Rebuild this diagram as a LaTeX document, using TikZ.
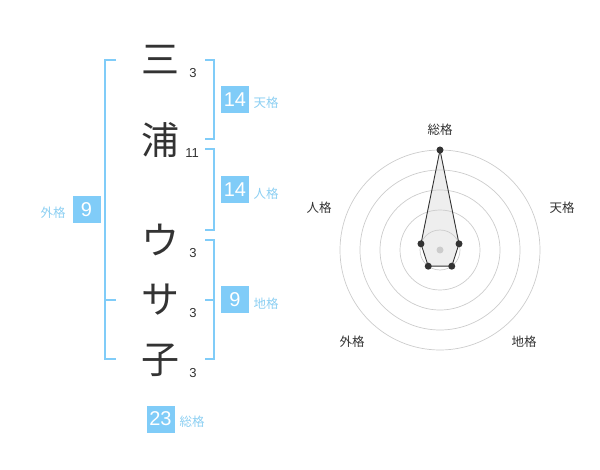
\documentclass[tikz,border=0pt]{standalone}
\usepackage{fontspec}
\setmainfont{Liberation Sans}
\newfontfamily\cjk{Noto Sans CJK JP}
\definecolor{brk}{HTML}{80CCF8}
\definecolor{lbl}{HTML}{8CCFF2}
\definecolor{ink}{HTML}{333333}
\definecolor{ring}{HTML}{CCCCCC}
\definecolor{area}{HTML}{EEEEEE}
\begin{document}
\begin{tikzpicture}[x=1pt,y=-1pt,
  bigchar/.style={font=\cjk\fontsize{38}{38}\selectfont, text=ink, inner sep=0pt},
  strokes/.style={font=\fontsize{13}{13}\selectfont, text=ink, inner sep=0pt},
  valbox/.style={fill=brk, text=white, minimum width=28pt, minimum height=27pt, inner sep=0pt, font=\fontsize{20}{20}\selectfont},
  kaku/.style={font=\cjk\fontsize{12.5}{12.5}\selectfont, text=lbl, inner sep=0pt},
  bracket/.style={draw=brk, line width=1.6pt},
  ringline/.style={draw=ring, line width=0.7pt},
  axislbl/.style={font=\cjk\fontsize{12.5}{12.5}\selectfont, text=ink, inner sep=0pt},
  dot/.style={circle, fill=ink, inner sep=0pt, minimum size=7pt},
]
\useasboundingbox (0,0) rectangle (600,470);

% name characters
\node[bigchar] (c1) at (160,60) {三};
\node[bigchar] (c2) at (160,140) {浦};
\node[bigchar] (c3) at (160,240) {ウ};
\node[bigchar] (c4) at (160,300) {サ};
\node[bigchar] (c5) at (160,360) {子};
\node[strokes] (n1) at (193,73) {3};
\node[strokes] (n2) at (192,153) {11};
\node[strokes] (n3) at (193,253) {3};
\node[strokes] (n4) at (193,313) {3};
\node[strokes] (n5) at (193,373) {3};

% brackets
\draw[bracket] (116,60) -- (105,60) -- (105,359) -- (116,359);
\draw[bracket] (105,300) -- (116,300);
\draw[bracket] (205,60) -- (214,60) -- (214,139) -- (205,139);
\draw[bracket] (205,149) -- (214,149) -- (214,230) -- (205,230);
\draw[bracket] (205,240) -- (214,240) -- (214,359) -- (205,359);
\draw[bracket] (205,300) -- (214,300);

% values
\node[valbox] (bten) at (235,99.5) {14};
\node[kaku] (lten) at (266,103) {天格};
\node[valbox] (bjin) at (235,190) {14};
\node[kaku] (ljin) at (266,194) {人格};
\node[valbox] (bchi) at (235,300) {9};
\node[kaku] (lchi) at (266,304) {地格};
\node[valbox] (bgai) at (86.5,210) {9};
\node[kaku] (lgai) at (53,213) {外格};
\node[valbox] (bsou) at (160.5,419) {23};
\node[kaku] (lsou) at (192,422) {総格};

% radar chart
\coordinate (ctr) at (440,250);
\coordinate (vsou) at (440,150);
\coordinate (vten) at (459.02,243.82);
\coordinate (vchi) at (451.76,266.18);
\coordinate (vgai) at (428.24,266.18);
\coordinate (vjin) at (420.98,243.82);
\fill[area] (vsou) -- (vten) -- (vchi) -- (vgai) -- (vjin) -- cycle;
\foreach \r in {20,40,60,80,100} \draw[ringline] (ctr) circle[radius=\r pt];
\fill[ring] (ctr) circle[radius=3.5pt];
\draw[draw=ink, line width=0.9pt, line join=round] (vsou) -- (vten) -- (vchi) -- (vgai) -- (vjin) -- cycle;
\foreach \v in {vsou,vten,vchi,vgai,vjin} \node[dot] at (\v) {};
\node[axislbl] (asou) at (440,130) {総格};
\node[axislbl] (aten) at (562,208) {天格};
\node[axislbl] (achi) at (524,342) {地格};
\node[axislbl] (agai) at (352,342) {外格};
\node[axislbl] (ajin) at (319,208) {人格};
\end{tikzpicture}
\end{document}
